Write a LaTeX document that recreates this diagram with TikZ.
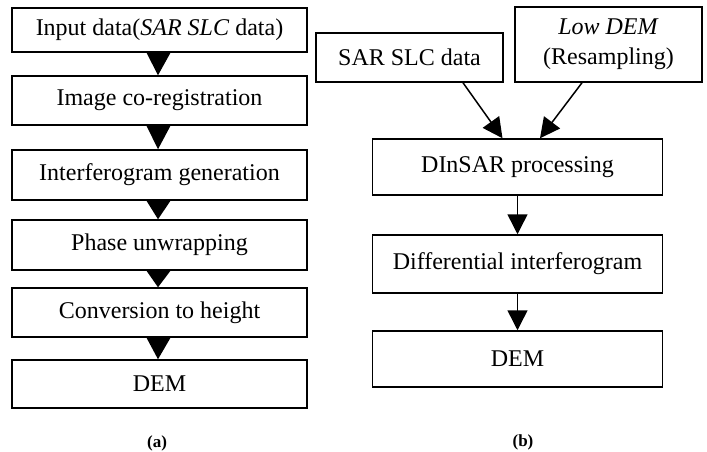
\documentclass[tikz,border=0pt]{standalone}
\usepackage{fontspec}
\setmainfont{Liberation Serif}
\usepackage{tikz}
\usetikzlibrary{arrows.meta}
\usetikzlibrary{calc,positioning}

\begin{document}
\begin{tikzpicture}[x=1pt, y=-1pt,
    every node/.style={font=\fontsize{24}{30}\selectfont},
    procbox/.style={draw, line width=1.5pt, minimum width=295pt, minimum height=49pt, inner sep=2pt},
    rbox/.style={draw, line width=1.5pt, minimum width=290pt, minimum height=56pt, inner sep=2pt},
    flow/.style={line width=1.5pt, -{Triangle[length=20pt, width=20pt]}}]
            \useasboundingbox (0,0) rectangle (707,452);
            % (a) InSAR chain
            \node [procbox, minimum height=44pt] (input) at (159.5,30) {Input data(\textit{SAR SLC} data)};
            \node [procbox] (coreg) at (159.5,100.5) {Image co-registration};
            \node [procbox, minimum height=50pt] (ifg) at (159.5,175) {Interferogram generation};
            \node [procbox, minimum height=50pt] (unwrap) at (159.5,245) {Phase unwrapping};
            \node [procbox] (height) at (159.5,312.5) {Conversion to height};
            \node [procbox, minimum height=48pt] (dema) at (159.5,384) {DEM};
            \foreach \a/\b in {input/coreg, coreg/ifg, ifg/unwrap, unwrap/height, height/dema}
                \fill ($(\a.south)+(-13,0)$) -- ($(\a.south)+(11,0)$) -- ($(\b.north)+(-1.5,0)$) -- cycle;
            \node [font=\fontsize{17}{20}\selectfont\bfseries] (capa) at (157,443) {(a)};

            % (b) DInSAR chain
            \node [procbox, minimum width=187pt] (slc) at (409.5,57.5) {SAR SLC data};
            \node [procbox, minimum width=187pt, minimum height=75pt, align=center] (lowdem) at (608.5,44.5) {\textit{Low DEM}\\(Resampling)};
            \node [rbox] (dinsar) at (517.5,167) {DInSAR processing};
            \node [rbox, minimum height=58pt] (diff) at (517.5,264) {Differential interferogram};
            \node [rbox] (demb) at (517.5,359) {DEM};
            \draw [flow] ($(slc.south)+(53.5,0)$) -- ($(dinsar.north)+(-15,0)$);
            \draw [flow] ($(lowdem.south)+(-26.5,0)$) -- ($(dinsar.north)+(22.5,0)$);
            \draw [flow] (dinsar) -- (diff);
            \draw [flow] (diff) -- (demb);
            \node [font=\fontsize{17}{20}\selectfont\bfseries] (capb) at (523,442) {(b)};
    \end{tikzpicture}
\end{document}
